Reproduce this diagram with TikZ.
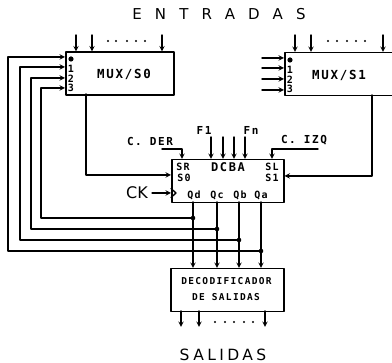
\documentclass[tikz,border=0pt]{standalone}
\usepackage{fontspec}
\newfontfamily\plotfont[LetterSpace=14]{DejaVu Sans Mono Bold}
\newfontfamily\titlefont[LetterSpace=88]{DejaVu Sans}
\newfontfamily\exitfont[LetterSpace=22]{DejaVu Sans}
\newfontfamily\clockfont{DejaVu Sans}
\usetikzlibrary{positioning}
\tikzset{
	block/.style={draw, line width=1.5pt, inner sep=0pt, minimum width=#1, anchor=north west},
	pin/.style={font=\plotfont\fontsize{10}{10}\selectfont, inner sep=0pt},
	tag/.style={font=\plotfont\fontsize{11}{11}\selectfont, inner sep=0pt},
	wire/.style={line width=1.4pt},
	flow/.style={wire, ->},
}
\begin{document}
\begin{tikzpicture}[x=1pt,y=-1pt,>=stealth, line join=round, line cap=round]
	\useasboundingbox (0,0) rectangle (392,363);
	\node (title) at (219,14) {\titlefont\fontsize{15}{15}\selectfont ENTRADAS};
	\node (exit) at (223,355) {\exitfont\fontsize{15.5}{15.5}\selectfont SALIDAS};
	% blocks
	\node[block=108pt, minimum height=43pt] (muxa) at (65,51.5) {};
	\node[tag, font=\plotfont\fontsize{12.5}{12.5}\selectfont] (muxalabel) at (124,74) {MUX/S0};
	\node[block=118pt, minimum height=43pt] (muxb) at (284,52) {};
	\node[tag, font=\plotfont\fontsize{12.5}{12.5}\selectfont] (muxblabel) at (339,75) {MUX/S1};
	\node[block=112pt, minimum height=43pt] (reg) at (171,159) {};
	\node[block=113pt, minimum height=43pt] (deco) at (170,268) {};
	\node[tag, font=\plotfont\fontsize{9.5}{9.5}\selectfont] (decoa) at (226.5,281) {DECODIFICADOR};
	\node[tag, font=\plotfont\fontsize{9.5}{9.5}\selectfont] (decob) at (226,297) {DE SALIDAS};
	% pin labels
	\fill (71,59) circle (2.6pt) (290,60) circle (2.6pt);
	\foreach \n/\y in {1/69,2/79,3/88}
		{\node[pin] (pa\n) at (71,\y) {\n};
		\node[pin] (pb\n) at (290,\y+1) {\n};}
	\node[pin] (sr) at (183,167) {SR};
	\node[pin] (sa) at (184,178) {S0};
	\node[pin] (sl) at (272,167) {SL};
	\node[pin] (sb) at (272,178) {S1};
	\node[tag, font=\plotfont\fontsize{12}{12}\selectfont] (dcba) at (228,167) {DCBA};
	\node[pin] (qd) at (194,195) {Qd};
	\node[pin] (qc) at (217,195) {Qc};
	\node[pin] (qb) at (240,195) {Qb};
	\node[pin] (qa) at (261,195) {Qa};
	\node[tag] (cder) at (150,141) {C. DER};
	\node[tag] (cizq) at (304,140) {C. IZQ};
	\node[tag] (fa) at (204,130) {F1};
	\node[tag] (fn) at (251,130) {Fn};
	\node[font=\clockfont\fontsize{16}{16}\selectfont, inner sep=0pt] (ck) at (137,193) {CK};
	% inputs
	\foreach \x in {76,92,162}
		{\coordinate (ina) at (\x,35);
		\draw[flow] (ina) -- (ina |- muxa.north);}
	\foreach \x in {295,311,383}
		{\coordinate (inb) at (\x,35);
		\draw[flow] (inb) -- (inb |- muxb.north);}
	\foreach \y in {58,68,79,90}
		{\coordinate (inc) at (262,\y);
		\draw[flow] (inc) -- (inc -| muxb.west);}
	\foreach \x in {211,223,234,245}
		{\coordinate (ind) at (\x,137);
		\draw[flow] (ind) -- (ind |- reg.north);}
	\foreach \x in {181,199,265}
		{\coordinate (oute) at (\x,311);
		\draw[flow] (oute) -- ++(0,16);}
	\foreach \x in {108,116,127,136,145}
		\fill (\x,41) circle (1.1pt);
	\foreach \x in {328,337,347,356,365}
		\fill (\x,41) circle (1.1pt);
	\foreach \x in {215,225,234,244,253}
		\fill (\x,322) circle (1.1pt);
	% shift controls
	\coordinate (sacorner) at (86,175);
	\draw[flow] (86,94) -- (sacorner) -- (sacorner -| reg.west);
	\coordinate (sbcorner) at (372,176);
	\draw[flow] (372,95) -- (sbcorner) -- (sbcorner -| reg.east);
	\coordinate (cderend) at (162,149);
	\draw[flow] (cderend) -- (182,149) -- (182,159);
	\coordinate (cizqend) at (318,149);
	\draw[flow] (cizqend) -- (272,149) -- (272,159);
	\draw[flow] (ck.east) ++(4,0) -- (171,193);
	\draw[wire] (171,188.5) -- (176,193) -- (171,197.5);
	% outputs and feedback
	\foreach \name/\x/\ybus/\xbus/\ytop in {d/193/218/41/88, c/217/229/31/78, b/239/240/20/67, a/261/251/8/57}
		{\coordinate (t\name) at (\x,202);
		\coordinate (n\name) at (\x,\ybus);
		\draw[flow] (t\name) -- (t\name |- deco.north);
		\draw[flow] (n\name) -- (\xbus,\ybus) -- (\xbus,\ytop) -- (65,\ytop);
		\fill (n\name) circle (2.3pt);}
\end{tikzpicture}
\end{document}
